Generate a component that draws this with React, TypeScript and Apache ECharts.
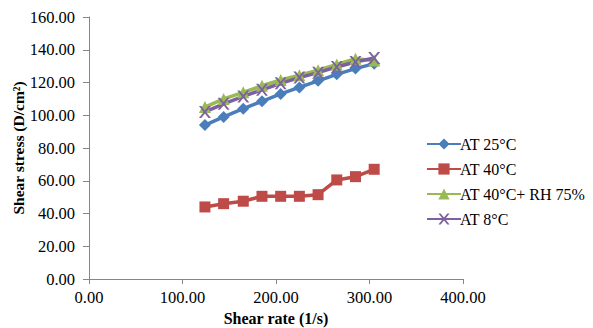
import React, { useEffect, useRef } from "react";
import * as echarts from "echarts";

const shearRate = [124, 144, 165, 185, 205, 225, 245, 265, 285, 305];
const at25 = [94, 99, 104, 108.5, 113, 117, 121, 125, 128.5, 131.5];
const at40 = [44, 46, 47.5, 50.5, 50.5, 50.5, 51.5, 60.5, 62.5, 67];
const at40rh = [105, 110, 114, 118, 121.5, 124.5, 127.5, 131, 134.5, 133.5];
const at8 = [102, 107, 111.5, 115.5, 119.5, 123, 126, 129.5, 132.5, 135];
const seriesNames = ["AT 25°C", "AT 40°C", "AT 40°C+ RH 75%", "AT 8°C"];

const FONT = "'Liberation Serif', 'Times New Roman', serif";
const crossPath = "path://M0,0 L2,0 L5,3 L8,0 L10,0 L6,4 L10,8 L8,8 L5,5 L2,8 L0,8 L4,4 Z";

export default function App() {
  const ref = useRef<HTMLDivElement>(null);
  useEffect(() => {
    if (!ref.current) return;
    const chart = echarts.init(ref.current, null, { renderer: "svg" });
    const mk = (vals: number[]) => shearRate.map((x, i) => [x, vals[i]]);
    const colors = ["#4A7EBB", "#BE4B48", "#98B954", "#7D60A0"];
    const symbols = ["diamond", "rect", "triangle", crossPath];
    const sizes = [12, 11, 12, 12];
    const data = [at25, at40, at40rh, at8];
    chart.setOption({
      animation: false,
      grid: { left: 89, right: 130, top: 17, bottom: 49, containLabel: false, outerBoundsMode: "none" },
      legend: {
        orient: "vertical",
        left: 421,
        top: 131,
        itemWidth: 34,
        itemHeight: 14,
        itemGap: 9,
        textStyle: { fontFamily: FONT, fontSize: 16, color: "#000", padding: [0, 0, 0, -6] },
        data: seriesNames,
      },
      xAxis: {
        type: "value",
        min: 0,
        max: 400,
        interval: 100,
        name: "Shear rate (1/s)",
        nameLocation: "middle",
        nameGap: 31,
        nameMoveOverlap: false,
        nameTextStyle: { fontFamily: FONT, fontSize: 16, fontWeight: "bold", color: "#000" },
        axisLine: { show: true, lineStyle: { color: "#868686" } },
        axisTick: { show: true, length: 5, lineStyle: { color: "#868686" } },
        axisLabel: { fontFamily: FONT, fontSize: 16.5, color: "#000", margin: 10, formatter: (v: number) => v.toFixed(2) },
        splitLine: { show: false },
      },
      yAxis: {
        type: "value",
        min: 0,
        max: 160,
        interval: 20,
        name: "Shear stress (D/cm²)",
        nameLocation: "middle",
        nameGap: 63,
        nameMoveOverlap: false,
        nameTextStyle: { fontFamily: FONT, fontSize: 15.5, fontWeight: "bold", color: "#000" },
        axisLine: { show: true, lineStyle: { color: "#868686" } },
        axisTick: { show: true, length: 6, lineStyle: { color: "#868686" } },
        axisLabel: { fontFamily: FONT, fontSize: 16.5, color: "#000", margin: 14, formatter: (v: number) => v.toFixed(2) },
        splitLine: { show: false },
      },
      series: seriesNames.map((name, i) => ({
        name,
        type: "line",
        data: mk(data[i]),
        symbol: symbols[i],
        symbolSize: sizes[i],
        showAllSymbol: true,
        lineStyle: { color: colors[i], width: 3.5 },
        itemStyle: { color: colors[i] },
      })),
    });
    return () => chart.dispose();
  }, []);
  return <div ref={ref} style={{ position: "absolute", left: 0, top: 0, width: 593, height: 328 }} />;
}
